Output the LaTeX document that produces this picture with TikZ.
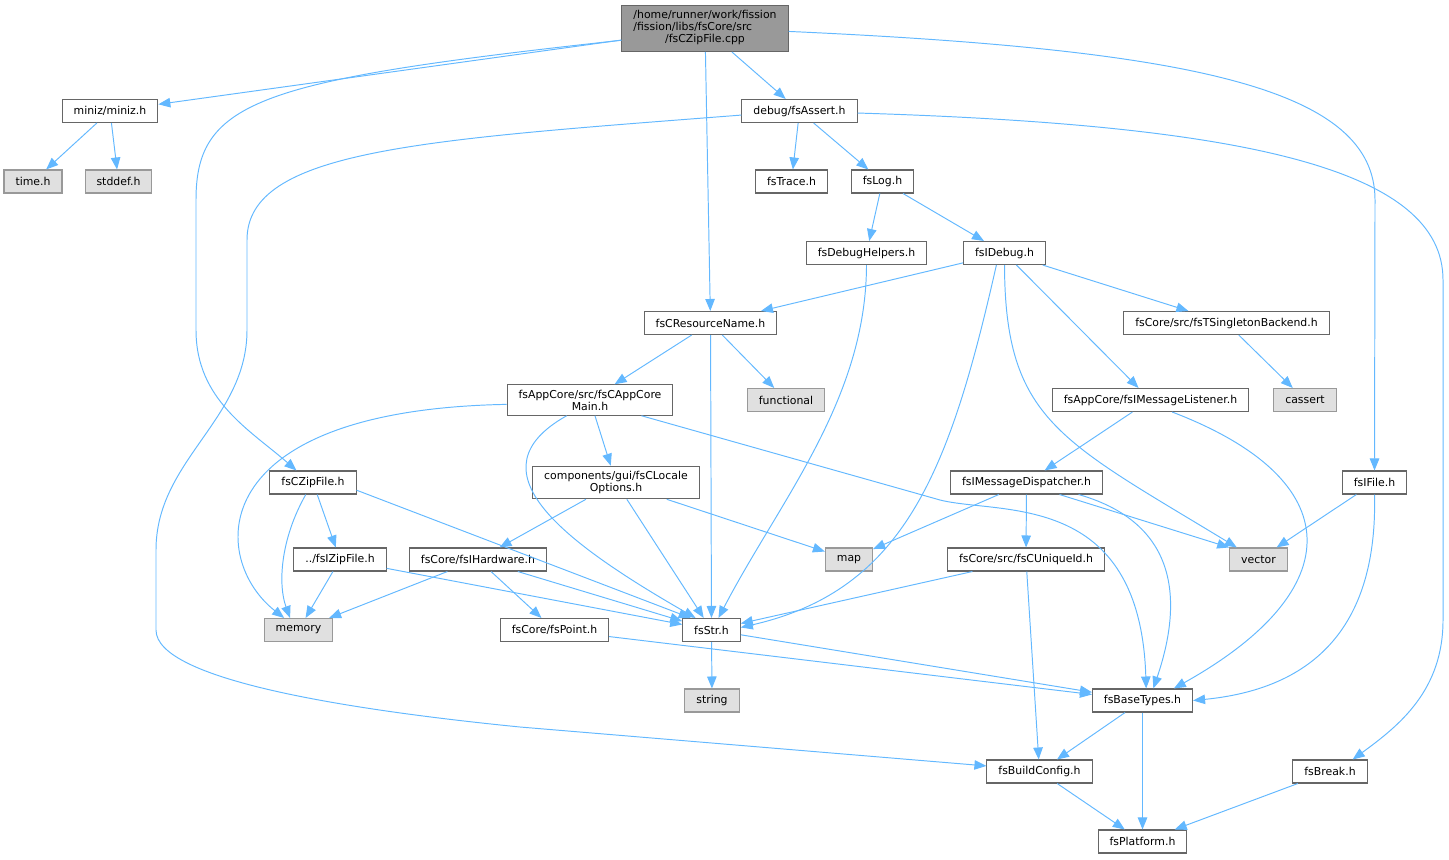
\documentclass[tikz,border=0pt]{standalone}
\usepackage{fontspec}
\setmainfont{DejaVu Sans}
\usetikzlibrary{arrows.meta}

\definecolor{edgeblue}{HTML}{63B8FF}
\definecolor{boxline}{HTML}{666666}
\definecolor{sysline}{HTML}{999999}
\definecolor{sysfill}{HTML}{E0E0E0}
\definecolor{rootfill}{HTML}{999999}

\tikzset{
    filebox/.style={draw=boxline, fill=white, line width=0.6pt,
        font=\fontsize{6.2}{6.8}\selectfont, align=center,
        inner xsep=0.23cm, inner ysep=0.1cm, minimum height=0.46cm},
    sysbox/.style={filebox, draw=sysline, fill=sysfill},
    rootbox/.style={filebox, fill=rootfill},
    incl/.style={draw=edgeblue, line width=0.55pt,
        -{Triangle[length=0.24cm,width=0.19cm]}},
}

\begin{document}
\begin{tikzpicture}[x=0.02cm, y=-0.02cm]

    \useasboundingbox (0,0) rectangle (1449,859);

    % files
    \node[rootbox] (root) at (705,28.5) {\begin{tabular}{@{}l@{}}/home/runner/work/fission\\/fission/libs/fsCore/src\\\multicolumn{1}{@{}c@{}}{/fsCZipFile.cpp}\end{tabular}};
    \node[filebox] (miniz) at (110,111) {miniz/miniz.h};
    \node[sysbox] (timeh) at (33,181.5) {time.h};
    \node[sysbox] (stddefh) at (118.5,181.5) {stddef.h};
    \node[filebox] (fsassert) at (799.5,111) {debug/fsAssert.h};
    \node[filebox] (fstrace) at (791.5,181.5) {fsTrace.h};
    \node[filebox] (fslog) at (882.5,181.5) {fsLog.h};
    \node[filebox] (fsdbghelp) at (866.5,253) {fsDebugHelpers.h};
    \node[filebox] (fsidebug) at (1004.5,253) {fsIDebug.h};
    \node[filebox] (fscres) at (710.5,323) {fsCResourceName.h};
    \node[filebox] (fssingleton) at (1226.5,323) {fsCore/src/fsTSingletonBackend.h};
    \node[filebox] (fscappcore) at (590,400) {fsAppCore/src/fsCAppCore\\Main.h};
    \node[sysbox] (functional) at (786,400) {functional};
    \node[filebox] (fsimlistener) at (1150.5,400) {fsAppCore/fsIMessageListener.h};
    \node[sysbox] (cassert) at (1305,400) {cassert};
    \node[filebox] (fsczip) at (313,482.5) {fsCZipFile.h};
    \node[filebox] (fsclocale) at (616,482.5) {components/gui/fsCLocale\\Options.h};
    \node[filebox] (fsimdisp) at (1026.5,482.5) {fsIMessageDispatcher.h};
    \node[filebox] (fsifile) at (1374.5,482.5) {fsIFile.h};
    \node[filebox] (fsizip) at (340,559.5) {../fsIZipFile.h};
    \node[filebox] (fsihw) at (478,559.5) {fsCore/fsIHardware.h};
    \node[sysbox] (map) at (849,559.5) {map};
    \node[filebox] (fscuid) at (1026,559.5) {fsCore/src/fsCUniqueId.h};
    \node[sysbox] (vector) at (1258.5,559.5) {vector};
    \node[sysbox] (memory) at (298.5,630) {memory};
    \node[filebox] (fspoint) at (554.5,630) {fsCore/fsPoint.h};
    \node[filebox] (fsstr) at (711.5,630) {fsStr.h};
    \node[sysbox] (string) at (712,700.5) {string};
    \node[filebox] (fsbase) at (1142.5,700.5) {fsBaseTypes.h};
    \node[filebox] (fsbuild) at (1039.5,771.5) {fsBuildConfig.h};
    \node[filebox] (fsbreak) at (1330,771.5) {fsBreak.h};
    \node[filebox] (fsplatform) at (1142.5,841.5) {fsPlatform.h};

    % straight includes
    \foreach \a/\b in {root/miniz, root/fscres, root/fsassert, miniz/timeh, miniz/stddefh,
            fsassert/fstrace, fsassert/fslog, fslog/fsdbghelp, fslog/fsidebug,
            fsidebug/fscres, fsidebug/fssingleton, fsidebug/fsimlistener, fssingleton/cassert,
            fscres/fscappcore, fscres/functional, fscres/fsstr, fscappcore/fsclocale,
            fsimlistener/fsimdisp, fsimdisp/map, fsimdisp/fscuid, fsifile/vector,
            fsczip/fsizip, fsclocale/fsihw, fsclocale/fsstr, fsclocale/map,
            fsizip/memory, fsizip/fsstr, fsihw/memory, fsihw/fspoint, fsihw/fsstr,
            fscuid/fsstr, fscuid/fsbuild, fspoint/fsbase, fsstr/string, fsstr/fsbase,
            fsbase/fsbuild, fsbase/fsplatform, fsbuild/fsplatform, fsbreak/fsplatform} {
        \draw[incl] (\a) -- (\b);
    }
    \draw[incl] (fsczip.-10) -- (fsstr.150);
    \draw[incl] (fsimdisp.-20) -- (vector.north west);

    % curved includes
    \draw[incl] (root.188) .. controls (260,80) and (196,100) .. (196,200) -- (196,330)
        .. controls (196,400) and (250,430) .. (fsczip.144);
    \draw[incl] (root.-2) .. controls (1200,50) and (1375,90) .. (1375,200) -- (fsifile.north);
    \draw[incl] (fsassert.184) .. controls (420,140) and (247,150) .. (247,240) -- (247,330)
        .. controls (247,420) and (156,460) .. (156,550) -- (156,630)
        .. controls (156,680) and (350,710) .. (520,727) -- (fsbuild.174);
    \draw[incl] (fsassert.-2) .. controls (1250,125) and (1443,170) .. (1443,280) -- (1443,620)
        .. controls (1443,690) and (1400,725) .. (fsbreak.28);
    \draw[incl] (fsdbghelp.south) .. controls (866,400) and (780,500) .. (fsstr.60);
    \draw[incl] (fsidebug.south) .. controls (1005,420) and (1060,440) .. (vector.151);
    \draw[incl] (fsidebug.-124) .. controls (950,470) and (905,590) .. (fsstr.5);
    \draw[incl] (fscappcore.183) .. controls (200,410) and (210,560) .. (memory.140);
    \draw[incl] (fscappcore.214) .. controls (470,470) and (560,540) .. (fsstr.143);
    \draw[incl] (fscappcore.-17) -- (940,500) .. controls (1000,515) and (1140,490) .. (fsbase.73);
    \draw[incl] (fsimlistener.-29) .. controls (1350,480) and (1350,590) .. (fsbase.21);
    \draw[incl] (fsimdisp.-13) .. controls (1185,525) and (1180,610) .. (fsbase.48);
    \draw[incl] (fsifile.south) .. controls (1378,640) and (1300,690) .. (fsbase.east);
    \draw[incl] (fsczip.-121) .. controls (280,540) and (278,585) .. (memory.125);

\end{tikzpicture}
\end{document}
